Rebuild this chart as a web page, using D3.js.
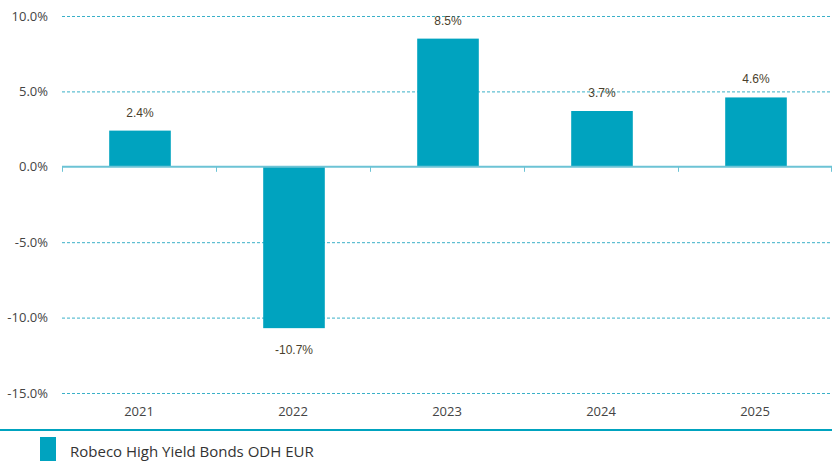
<!DOCTYPE html>
<html>
<head>
<meta charset="utf-8">
<script src="https://cdn.jsdelivr.net/npm/d3@7"></script>
<style>
  body { margin: 0; background: #fff; }
  svg { display: block; font-family: "Open Sans", "Noto Sans", sans-serif; }
</style>
</head>
<body>
<svg id="chart" width="832" height="461"></svg>
<script>
const years = ["2021", "2022", "2023", "2024", "2025"];
const returns = [2.4, -10.7, 8.5, 3.7, 4.6];
const yTicks = [10, 5, 0, -5, -10, -15];
const seriesName = "Robeco High Yield Bonds ODH EUR";

const svg = d3.select("#chart");
const margin = { top: 16, right: 0, bottom: 68, left: 62 };
const width = 832 - margin.left - margin.right;
const height = 461 - margin.top - margin.bottom;

const x = d3.scaleBand().domain(years).range([margin.left, margin.left + width]);
const y = d3.scaleLinear().domain([-15, 10]).range([margin.top + height, margin.top]);
const barColor = "#00a3bf";

// dashed grid lines
svg.append("g")
  .selectAll("line")
  .data(yTicks.filter((d) => d !== 0))
  .join("line")
  .attr("x1", margin.left)
  .attr("x2", margin.left + width)
  .attr("y1", (d) => y(d) + 0.5)
  .attr("y2", (d) => y(d) + 0.5)
  .attr("stroke", "#3ab0c8")
  .attr("stroke-width", 1)
  .attr("stroke-dasharray", "3,2");

// y labels
svg.append("g")
  .selectAll("text")
  .data(yTicks)
  .join("text")
  .attr("x", 48)
  .attr("y", (d) => y(d))
  .attr("dy", "0.35em")
  .attr("text-anchor", "end")
  .attr("fill", "#444")
  .attr("font-size", 13)
  .text((d) => d.toFixed(1) + "%");

// bars
const barW = x.bandwidth() * 0.4;
svg.append("g")
  .selectAll("rect")
  .data(returns)
  .join("rect")
  .attr("x", (d, i) => x(years[i]) + (x.bandwidth() - barW) / 2 + 1)
  .attr("y", (d) => y(Math.max(0, d)))
  .attr("width", barW)
  .attr("height", (d) => Math.abs(y(d) - y(0)))
  .attr("fill", barColor);

// value labels
svg.append("g")
  .selectAll("text")
  .data(returns)
  .join("text")
  .attr("x", (d, i) => x(years[i]) + x.bandwidth() / 2 + 1)
  .attr("y", (d) => (d >= 0 ? y(d) - 14 : y(d) + 26))
  .attr("text-anchor", "middle")
  .attr("fill", "#4a3f2c")
  .attr("font-size", 12)
  .attr("font-family", "Liberation Sans, Arial, sans-serif")
  .text((d) => d.toFixed(1) + "%");

// zero axis
const xAxis = svg.append("g")
  .attr("transform", `translate(0, ${y(0)})`)
  .call(d3.axisBottom(x).tickValues([]).tickSizeOuter(0));
xAxis.select(".domain").remove();
xAxis.append("line")
  .attr("x1", margin.left)
  .attr("x2", margin.left + width)
  .attr("stroke", "#6cc3d5")
  .attr("stroke-width", 2);
xAxis.selectAll(".sep")
  .data(years.concat(["end"]))
  .join("line")
  .attr("class", "sep")
  .attr("x1", (d, i) => margin.left + i * x.step() + (i === years.length ? -0.5 : 0.5))
  .attr("x2", (d, i) => margin.left + i * x.step() + (i === years.length ? -0.5 : 0.5))
  .attr("y1", 0)
  .attr("y2", 5)
  .attr("stroke", "#6cc3d5")
  .attr("stroke-width", 1);

// year labels
svg.append("g")
  .selectAll("text")
  .data(years)
  .join("text")
  .attr("x", (d) => x(d) + x.bandwidth() / 2)
  .attr("y", 416)
  .attr("text-anchor", "middle")
  .attr("fill", "#444")
  .attr("font-size", 13)
  .text((d) => d);

// legend
svg.append("line")
  .attr("x1", 0)
  .attr("x2", 832)
  .attr("y1", 430)
  .attr("y2", 430)
  .attr("stroke", "#00a3bf")
  .attr("stroke-width", 2);
svg.append("rect")
  .attr("x", 40)
  .attr("y", 437)
  .attr("width", 16)
  .attr("height", 24)
  .attr("fill", barColor);
svg.append("text")
  .attr("x", 70)
  .attr("y", 457)
  .attr("fill", "#333")
  .attr("font-size", 15)
  .text(seriesName);
</script>
</body>
</html>
